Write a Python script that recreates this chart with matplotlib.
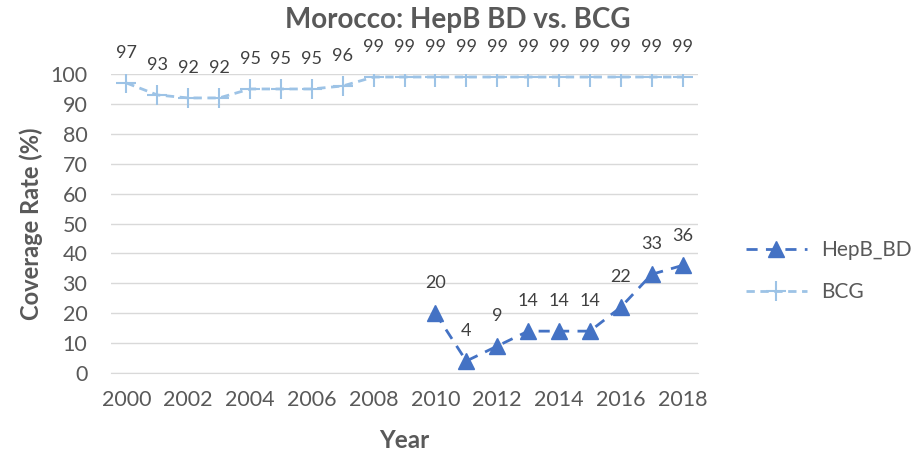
import numpy as np
import matplotlib.pyplot as plt

plt.rcParams['font.family'] = ['Lato', 'DejaVu Sans']

years = list(range(2000, 2019))
bcg = [97, 93, 92, 92, 95, 95, 95, 96, 99, 99, 99, 99, 99, 99, 99, 99, 99, 99, 99]
hepbYears = list(range(2010, 2019))
hepb = [20, 4, 9, 14, 14, 14, 22, 33, 36]

textColor = '#595959'
labelColor = '#404040'
hepbColor = '#4472C4'
bcgColor = '#9DC3E6'

fig = plt.figure(figsize=(9.12, 4.53), dpi=100)
ax = fig.add_axes([0.1217, 0.1766, 0.6437, 0.66])

ax.plot(hepbYears, hepb, color=hepbColor, linestyle=(0, (4, 3)), linewidth=2,
        marker='^', markersize=11, label='HepB_BD')
ax.plot(years, bcg, color=bcgColor, linestyle=(0, (3, 2)), linewidth=2,
        marker='+', markersize=15, markeredgewidth=1.5, label='BCG')

# data labels
for x, y in zip(years, bcg):
    ax.annotate(str(y), (x, y), xytext=(0, 21.5), textcoords='offset points',
                ha='center', va='center', fontsize=13, color=labelColor, annotation_clip=False)
for x, y in zip(hepbYears, hepb):
    ax.annotate(str(y), (x, y), xytext=(0, 21.5), textcoords='offset points',
                ha='center', va='center', fontsize=13, color=labelColor, annotation_clip=False)

ax.set_xlim(1999.5, 2018.5)
ax.set_ylim(0, 100)
ax.set_xticks(range(2000, 2019, 2))
ax.set_yticks(range(0, 101, 10))
ax.tick_params(length=0, labelsize=15.5, labelcolor=textColor)
ax.tick_params(axis='x', pad=12)
ax.tick_params(axis='y', pad=17)
ax.grid(axis='y', color='#D9D9D9', linewidth=1)
ax.set_axisbelow(True)
for s in ['top', 'right', 'left']:
    ax.spines[s].set_visible(False)
ax.spines['bottom'].set_color('#D9D9D9')

ax.set_xlabel('Year', fontsize=17.5, fontweight='bold', color=textColor, labelpad=14)
ax.set_ylabel('Coverage Rate (%)', fontsize=17, fontweight='bold', color=textColor, labelpad=5)
fig.text(0.502, 0.955, 'Morocco: HepB BD vs. BCG', ha='center', va='center',
         fontsize=20, fontweight='bold', color=textColor)

leg = ax.legend(loc='center left', bbox_to_anchor=(1.05, 0.34), frameon=False,
                fontsize=15, labelspacing=1.05, handlelength=2.9, handletextpad=0.7)
for t in leg.get_texts():
    t.set_color(textColor)

fig.savefig('out.png', dpi=100)
